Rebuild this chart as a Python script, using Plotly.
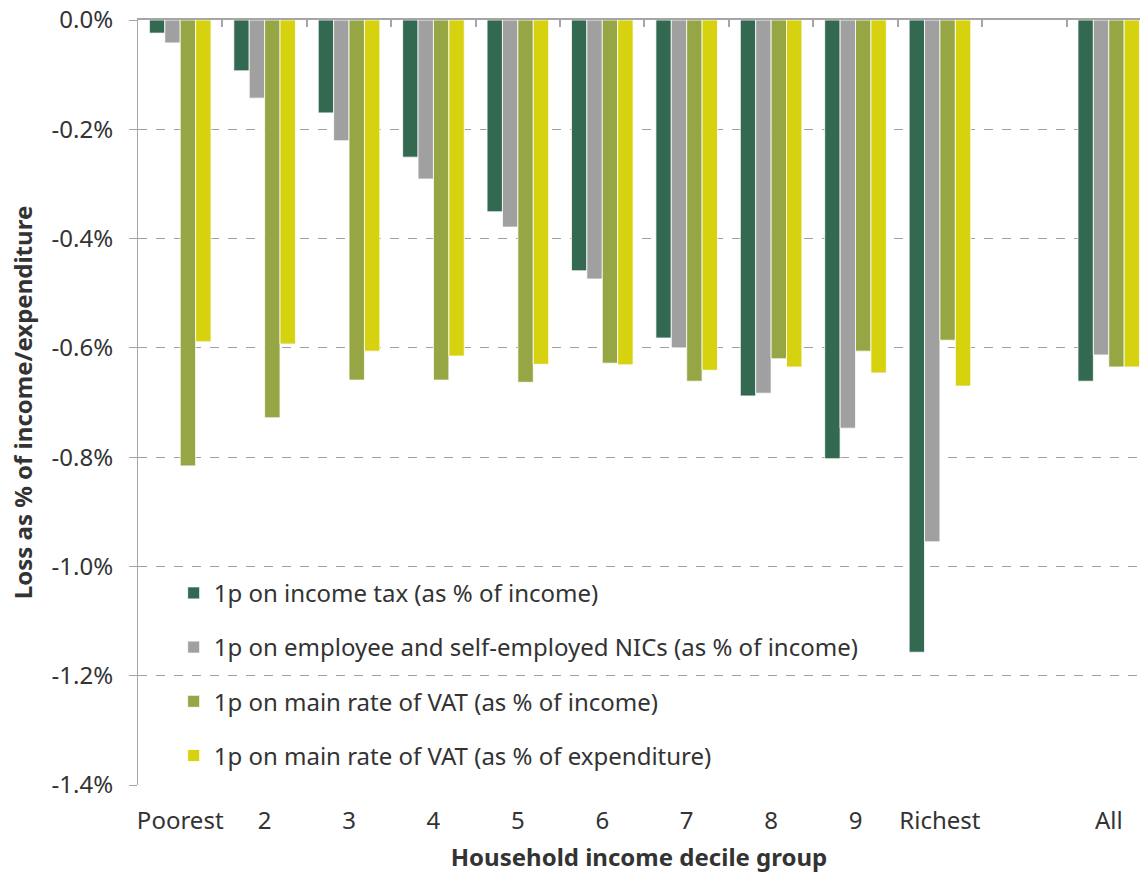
import plotly.graph_objects as go

categories = ["Poorest", "2", "3", "4", "5", "6", "7", "8", "9", "Richest", "", "All"]
positions = list(range(len(categories)))

income_tax = [-0.024, -0.093, -0.170, -0.251, -0.351, -0.459, -0.582, -0.688, -0.803, -1.157, None, -0.661]
nics = [-0.042, -0.143, -0.221, -0.291, -0.379, -0.474, -0.600, -0.683, -0.747, -0.955, None, -0.613]
vat_income = [-0.816, -0.728, -0.659, -0.659, -0.663, -0.628, -0.661, -0.620, -0.606, -0.586, None, -0.635]
vat_exp = [-0.589, -0.593, -0.606, -0.615, -0.630, -0.631, -0.641, -0.635, -0.646, -0.670, None, -0.635]

series_names = [
    "1p on income tax (as % of income)",
    "1p on employee and self-employed NICs (as % of income)",
    "1p on main rate of VAT (as % of income)",
    "1p on main rate of VAT (as % of expenditure)",
]
series_values = [income_tax, nics, vat_income, vat_exp]
colors = ["#336950", "#A0A0A0", "#96A645", "#D6D20F"]

y_tickvals = [0, -0.2, -0.4, -0.6, -0.8, -1.0, -1.2, -1.4]
y_ticktext = ["0.0%", "-0.2%", "-0.4%", "-0.6%", "-0.8%", "-1.0%", "-1.2%", "-1.4%"]

FONT = "Noto Sans"
TXT = "#333333"
AX = "#A6A6A6"
FS = 24
X_RANGE = [-0.5, 11.37]

fig = go.Figure()
for i, (name, vals, col) in enumerate(zip(series_names, series_values, colors)):
    fig.add_trace(go.Bar(
        x=positions, y=vals, name=name,
        marker=dict(color=col, line=dict(color="white", width=0.8)),
        legendgroup=f"g{i}",
    ))

# invisible trace to carry the top (zero-line) axis with boundary ticks
fig.add_trace(go.Scatter(x=[-0.5, 11.5], y=[0, 0], xaxis="x2", mode="lines",
                         line=dict(width=0), showlegend=False, hoverinfo="skip"))

fig.update_layout(
    width=1140, height=873,
    margin=dict(l=138, r=0, t=20, b=88),
    paper_bgcolor="white", plot_bgcolor="white",
    font=dict(family=FONT, size=FS, color=TXT),
    barmode="group", bargap=0.27, bargroupgap=0,
    xaxis=dict(
        range=X_RANGE, tickmode="array", tickvals=positions, ticktext=categories,
        showline=False, showgrid=False, ticks="", zeroline=False, automargin=False,
        ticklabelstandoff=19,
        tickfont=dict(size=FS, color=TXT),
        title=dict(text="<b>Household income decile group</b>", font=dict(size=FS, color=TXT), standoff=15),
    ),
    xaxis2=dict(
        overlaying="x", side="top", anchor="y", matches="x", automargin=False,
        range=X_RANGE, tickmode="array", tickvals=[p - 0.5 for p in positions] + [11.5],
        showticklabels=False, ticks="inside", ticklen=7, tickcolor=AX, tickwidth=1.5,
        showline=True, linecolor=AX, linewidth=1.5, showgrid=False, zeroline=False,
    ),
    yaxis=dict(
        range=[-1.4, 0], tickmode="array", tickvals=y_tickvals, ticktext=y_ticktext,
        showline=True, linecolor=AX, linewidth=1.2, automargin=False,
        ticks="outside", ticklen=8, tickcolor=AX, ticklabeloverflow="allow",
        showgrid=True, gridcolor="#A0A0A0", griddash="dash", gridwidth=1,
        zeroline=False, ticklabelstandoff=11,
        tickfont=dict(size=FS, color=TXT),
        title=dict(text="<b>Loss as % of income/expenditure</b>", font=dict(size=FS, color=TXT), standoff=12),
    ),
    legend=dict(
        x=0.0356, y=0.280, xanchor="left", yanchor="top",
        bgcolor="rgba(0,0,0,0)", font=dict(size=FS, color=TXT),
        tracegroupgap=20, itemwidth=30,
    ),
    showlegend=True,
)

fig.write_html("out.html", config={"displayModeBar": False},
               post_script="document.body.style.margin='0px';")
